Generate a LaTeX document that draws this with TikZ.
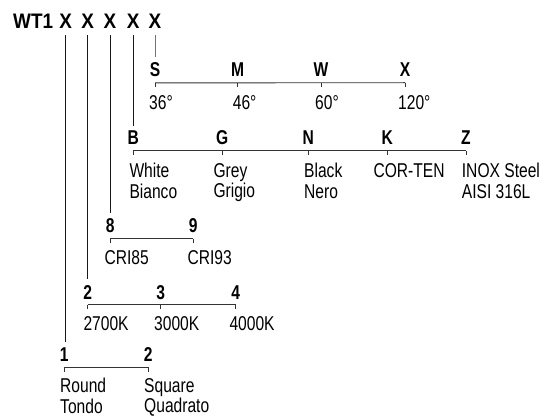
\documentclass[tikz,border=0pt]{standalone}
\usepackage{fontspec}
\setmainfont{Liberation Sans}[FakeStretch=0.78]
\newfontfamily\headfont{Liberation Sans}[FakeStretch=0.9]
\usetikzlibrary{positioning}

\begin{document}
\begin{tikzpicture}[
    x=1pt, y=-1pt,
    code/.style={font=\headfont\fontsize{21}{23}\selectfont\bfseries, anchor=base, inner xsep=0pt, inner ysep=6pt},
    opt/.style={font=\fontsize{20}{22}\selectfont\bfseries, anchor=base, inner xsep=0pt, inner ysep=5.5pt},
    desc/.style={font=\fontsize{20}{20.5}\selectfont, anchor=north west, inner sep=0pt, align=left},
    link/.style={draw=black!90, line width=0.9pt},
    tick/.style={draw=black!80, line width=0.9pt}
]
\useasboundingbox (0,0) rectangle (544,417);

% Codice
\node[code, anchor=base west] (wt) at (13,29) {WT1};
\node[code] (x1) at (65.7,29) {X};
\node[code] (x2) at (87.7,29) {X};
\node[code] (x3) at (110,29) {X};
\node[code] (x4) at (133.3,29) {X};
\node[code] (x5) at (155,29) {X};

% Ottica
\node[opt] (s) at (155,77) {S};
\node[opt] (m) at (237.7,77) {M};
\node[opt] (w) at (321,77) {W};
\node[opt] (xx) at (405,77) {X};
\node[desc] (s-t) at (149,95) {36°};
\node[desc] (m-t) at (232.7,95) {46°};
\node[desc] (w-t) at (315,95) {60°};
\node[desc] (xx-t) at (398,95) {120°};

% Finitura
\node[opt] (b) at (133.3,145) {B};
\node[opt] (g) at (222.3,145) {G};
\node[opt] (n) at (308.3,145) {N};
\node[opt] (k) at (387.3,145) {K};
\node[opt] (z) at (466,145) {Z};
\node[desc] (b-t) at (129.3,163) {White\\Bianco};
\node[desc] (g-t) at (213.3,163) {Grey\\Grigio};
\node[desc] (n-t) at (304,163) {Black\\Nero};
\node[desc] (k-t) at (373.3,163) {COR-TEN};
\node[desc] (z-t) at (461.7,163) {INOX Steel\\AISI 316L};

% CRI
\node[opt] (c8) at (110.3,233) {8};
\node[opt] (c9) at (193.3,233) {9};
\node[desc] (c8-t) at (104.3,250) {CRI85};
\node[desc] (c9-t) at (187.3,250) {CRI93};

% Temperatura di colore
\node[opt] (k2) at (87.7,299) {2};
\node[opt] (k3) at (160.7,299) {3};
\node[opt] (k4) at (235.7,299) {4};
\node[desc] (k2-t) at (83.3,316.7) {2700K};
\node[desc] (k3-t) at (154,316.7) {3000K};
\node[desc] (k4-t) at (229.3,316.7) {4000K};

% Forma
\node[opt] (f1) at (64.3,361.7) {1};
\node[opt] (f2) at (148.3,361.7) {2};
\node[desc] (f1-t) at (60,378) {Round\\Tondo};
\node[desc] (f2-t) at (144,378) {Square\\Quadrato};

% Linee verticali
\draw[link, draw=black!55] (x5.south) -- (x5.south |- s.north);
\draw[link] (x4.south) -- (x4.south |- b.north);
\draw[link] (x3.south) -- (x3.south |- c8.north);
\draw[link] (x2.south) -- (x2.south |- k2.north);
\draw[link] (x1.south) -- (x1.south |- f1.north);

% Scale
\draw[tick] (s.south) -- (xx.south);
\draw[tick] (b.south) -- (z.south);
\draw[tick] (c8.south) -- (c9.south);
\draw[tick] (k2.south) -- (k4.south);
\draw[tick] (f1.south) -- (f2.south);
\foreach \n in {s,m,w,xx,b,g,n,k,z,c8,c9,k2,k3,k4,f1,f2}
    \draw[tick] (\n.south) -- ++(0,4.5);

\end{tikzpicture}
\end{document}
